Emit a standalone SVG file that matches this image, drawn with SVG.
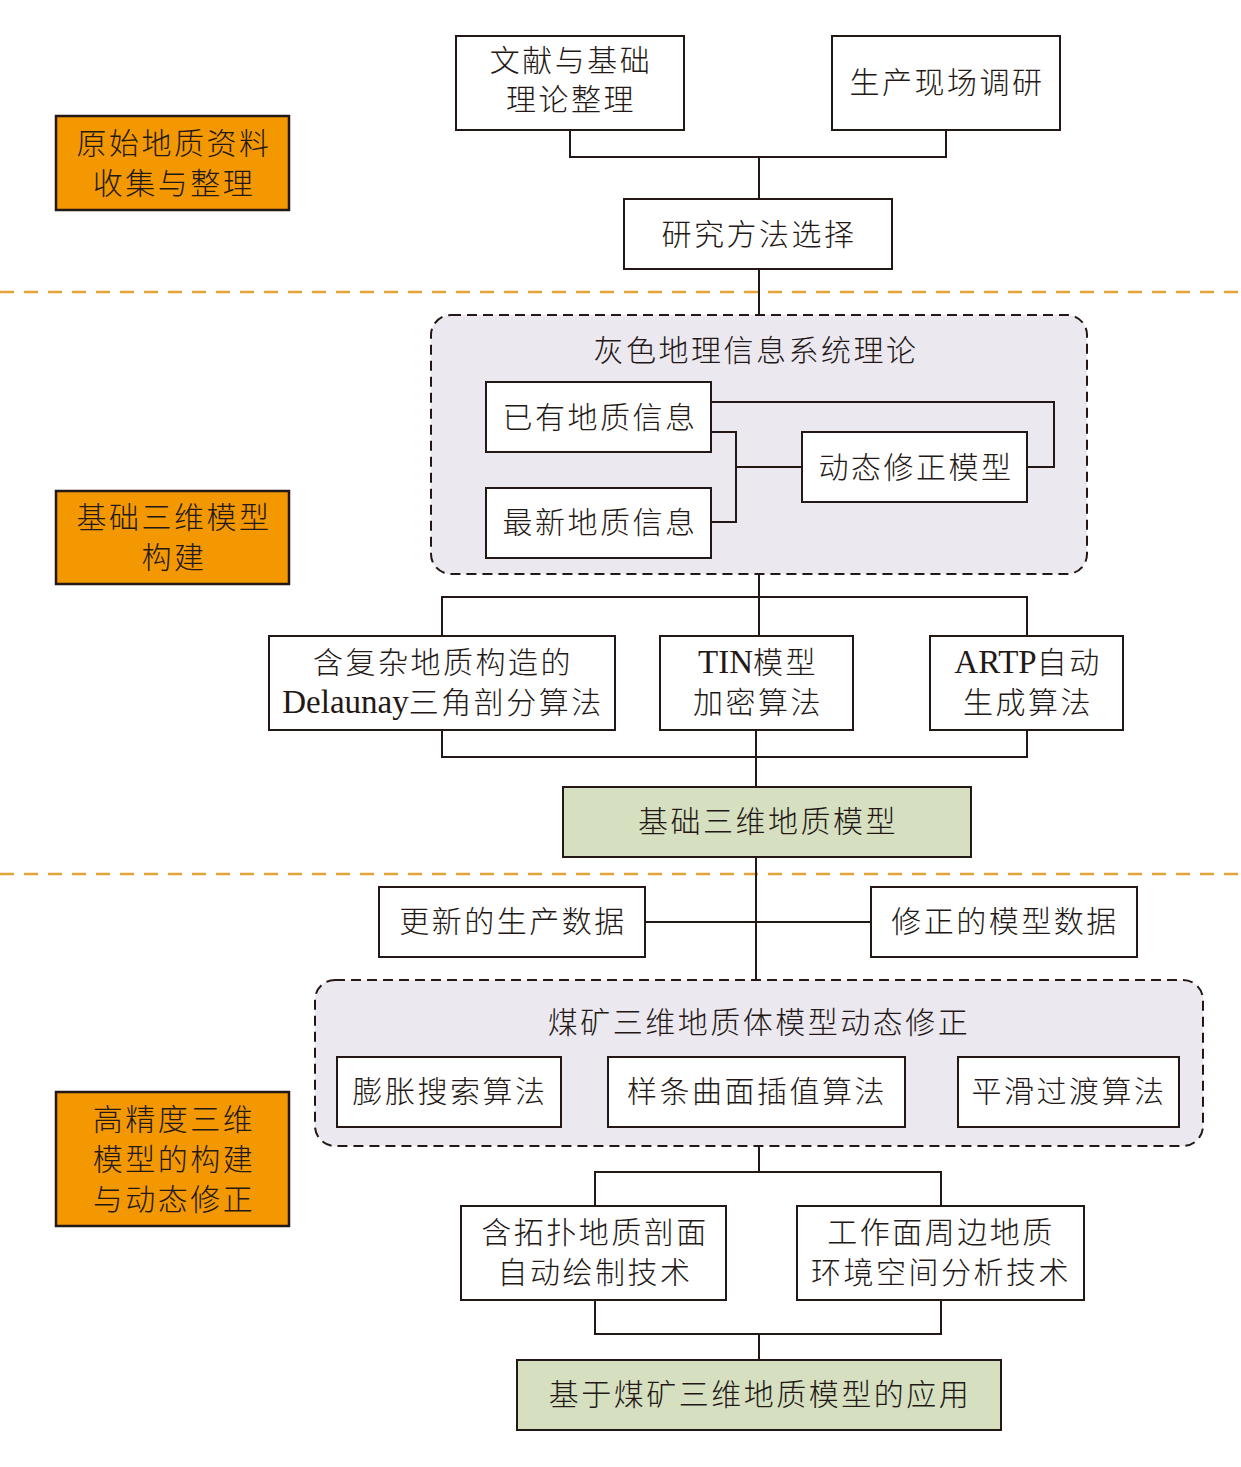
<svg xmlns="http://www.w3.org/2000/svg" width="1241" height="1467" viewBox="0 0 1241 1467">
<style>
  text { font-family: "Liberation Serif", "Noto Sans CJK SC", serif; font-size: 30px; fill: #231815; text-anchor: middle; letter-spacing: 2.5px; font-weight: 300; }
  .lat { font-size: 33px; letter-spacing: 0; }
  .box { fill: #ffffff; stroke: #231815; stroke-width: 2; }
  .side { fill: #F39800; stroke: #231815; stroke-width: 2.5; }
  .green { fill: #D6E0C1; stroke: #231815; stroke-width: 2; }
  .group { fill: #ECE8F0; stroke: #231815; stroke-width: 2; stroke-dasharray: 10 6; }
  .sep { stroke: #E3A43A; stroke-width: 2.5; stroke-dasharray: 14 10; fill: none; }
  .conn path { fill: none; stroke: #231815; stroke-width: 2; }
</style>
<rect width="1241" height="1467" fill="#ffffff"/>

<!-- separators -->
<line class="sep" x1="0" y1="292" x2="1241" y2="292"/>
<line class="sep" x1="0" y1="874" x2="1241" y2="874"/>

<!-- containers -->
<g id="grey-gis">
  <rect class="group" x="431" y="315" width="656" height="259" rx="20"/>
  <text x="756" y="361">灰色地理信息系统理论</text>
</g>
<g id="dynamic-correction">
  <rect class="group" x="315" y="980" width="888" height="166" rx="20"/>
  <text x="759" y="1033">煤矿三维地质体模型动态修正</text>
</g>

<!-- connectors -->
<g id="connectors" class="conn">
  <path d="M570,130 V157 H946 V130"/>
  <path d="M759,157 V199"/>
  <path d="M759,269 V315"/>
  <path d="M711,432 H736 V522 H711"/>
  <path d="M736,467 H802"/>
  <path d="M711,402 H1054 V467 H1027"/>
  <path d="M759,574 V636"/>
  <path d="M442,636 V597 H1027 V636"/>
  <path d="M442,730 V757 H1027 V730"/>
  <path d="M756,730 V787"/>
  <path d="M756,857 V980"/>
  <path d="M645,922 H871"/>
  <path d="M759,1146 V1172"/>
  <path d="M595,1206 V1172 H941 V1206"/>
  <path d="M595,1300 V1334 H941 V1300"/>
  <path d="M759,1334 V1360"/>
</g>

<!-- side labels -->
<g id="stage1">
  <rect class="side" x="56" y="116" width="233" height="94"/>
  <text x="174" y="154">原始地质资料</text>
  <text x="174" y="194">收集与整理</text>
</g>
<g id="stage2">
  <rect class="side" x="56" y="491" width="233" height="93"/>
  <text x="174" y="528">基础三维模型</text>
  <text x="174" y="568">构建</text>
</g>
<g id="stage3">
  <rect class="side" x="56" y="1092" width="233" height="134"/>
  <text x="174" y="1130">高精度三维</text>
  <text x="174" y="1170">模型的构建</text>
  <text x="174" y="1210">与动态修正</text>
</g>

<!-- nodes -->
<g id="literature">
  <rect class="box" x="456" y="36" width="228" height="94"/>
  <text x="571" y="71">文献与基础</text>
  <text x="571" y="110">理论整理</text>
</g>
<g id="field-survey">
  <rect class="box" x="832" y="36" width="228" height="94"/>
  <text x="947" y="93">生产现场调研</text>
</g>
<g id="method">
  <rect class="box" x="624" y="199" width="268" height="70"/>
  <text x="759" y="245">研究方法选择</text>
</g>
<g id="existing-info">
  <rect class="box" x="486" y="382" width="225" height="70"/>
  <text x="600" y="428">已有地质信息</text>
</g>
<g id="latest-info">
  <rect class="box" x="486" y="488" width="225" height="70"/>
  <text x="600" y="533">最新地质信息</text>
</g>
<g id="dynamic-model">
  <rect class="box" x="802" y="432" width="225" height="70"/>
  <text x="916" y="478">动态修正模型</text>
</g>
<g id="delaunay">
  <rect class="box" x="269" y="636" width="346" height="94"/>
  <text x="443" y="673">含复杂地质构造的</text>
  <text x="443" y="713"><tspan class="lat">Delaunay</tspan>三角剖分算法</text>
</g>
<g id="tin">
  <rect class="box" x="660" y="636" width="193" height="94"/>
  <text x="758" y="673"><tspan class="lat">TIN</tspan>模型</text>
  <text x="758" y="713">加密算法</text>
</g>
<g id="artp">
  <rect class="box" x="930" y="636" width="193" height="94"/>
  <text x="1028" y="673"><tspan class="lat">ARTP</tspan>自动</text>
  <text x="1028" y="713">生成算法</text>
</g>
<g id="base-model">
  <rect class="green" x="563" y="787" width="408" height="70"/>
  <text x="768" y="832">基础三维地质模型</text>
</g>
<g id="updated-data">
  <rect class="box" x="379" y="887" width="266" height="70"/>
  <text x="513" y="932">更新的生产数据</text>
</g>
<g id="corrected-data">
  <rect class="box" x="871" y="887" width="266" height="70"/>
  <text x="1005" y="932">修正的模型数据</text>
</g>
<g id="dilation">
  <rect class="box" x="337" y="1057" width="224" height="70"/>
  <text x="450" y="1102">膨胀搜索算法</text>
</g>
<g id="spline">
  <rect class="box" x="608" y="1057" width="297" height="70"/>
  <text x="757" y="1102">样条曲面插值算法</text>
</g>
<g id="smooth">
  <rect class="box" x="958" y="1057" width="221" height="70"/>
  <text x="1069" y="1102">平滑过渡算法</text>
</g>
<g id="profile">
  <rect class="box" x="461" y="1206" width="265" height="94"/>
  <text x="595" y="1243">含拓扑地质剖面</text>
  <text x="595" y="1283">自动绘制技术</text>
</g>
<g id="workface">
  <rect class="box" x="797" y="1206" width="287" height="94"/>
  <text x="941" y="1243">工作面周边地质</text>
  <text x="941" y="1283">环境空间分析技术</text>
</g>
<g id="application">
  <rect class="green" x="517" y="1360" width="484" height="70"/>
  <text x="760" y="1405">基于煤矿三维地质模型的应用</text>
</g>
</svg>
